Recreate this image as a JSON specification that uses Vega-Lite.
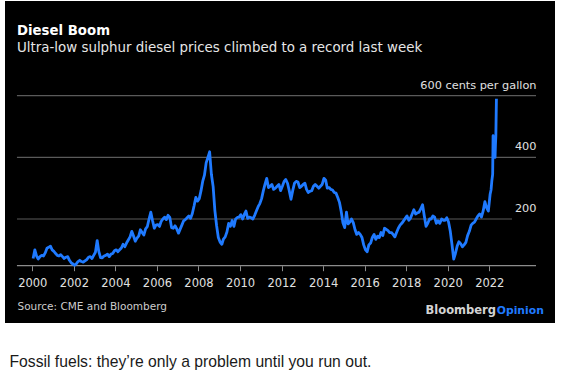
{
  "$schema": "https://vega.github.io/schema/vega-lite/v6.json",
  "width": 550,
  "height": 322,
  "autosize": {"type": "none"},
  "padding": {"left": 5, "top": 1, "right": 16, "bottom": 53},
  "background": "#ffffff",
  "config": {"view": {"fill": "#000000", "stroke": null}, "font": "DejaVu Sans"},
  "title": {
    "text": "Diesel Boom",
    "subtitle": "Ultra-low sulphur diesel prices climbed to a record last week",
    "anchor": "start",
    "frame": "group",
    "orient": "top",
    "offset": -53,
    "dx": 12,
    "font": "DejaVu Sans",
    "fontSize": 13.3,
    "fontWeight": "bold",
    "color": "#ffffff",
    "subtitleFont": "DejaVu Sans",
    "subtitleFontSize": 13.4,
    "subtitleColor": "#e6e6e6",
    "subtitlePadding": 3
  },
  "layer": [
    {
      "data": {"values": [{"level": 600}, {"level": 400}]},
      "mark": {"type": "rule", "color": "#5a5a5a", "strokeWidth": 1.2},
      "encoding": {
        "y": {"field": "level", "type": "quantitative"},
        "x": {"datum": {"year": 1999, "month": 4, "date": 6}},
        "x2": {"datum": {"year": 2024, "month": 4, "date": 1}}
      }
    },
    {
      "data": {"values": [{"level": 200}]},
      "mark": {"type": "rule", "color": "#5a5a5a", "strokeWidth": 1.2},
      "encoding": {
        "y": {"field": "level", "type": "quantitative"},
        "x": {"datum": {"year": 1999, "month": 4, "date": 6}},
        "x2": {"datum": {"year": 2023, "month": 2, "date": 5}}
      }
    },
    {
      "data": {"values": [{"level": 48.5}]},
      "mark": {"type": "rule", "color": "#8c8c8c", "strokeWidth": 1.2},
      "encoding": {
        "y": {"field": "level", "type": "quantitative"},
        "x": {"datum": {"year": 1999, "month": 4, "date": 6}},
        "x2": {"datum": {"year": 2024, "month": 4, "date": 1}}
      }
    },
    {
      "data": {"values": [
        {"date": "2000-01-15", "price": 72}, {"date": "2000-02-15", "price": 100}, {"date": "2000-03-15", "price": 80}, {"date": "2000-04-15", "price": 70}, {"date": "2000-05-15", "price": 78}, {"date": "2000-06-15", "price": 82}, {"date": "2000-07-15", "price": 80}, {"date": "2000-08-15", "price": 90}, {"date": "2000-09-15", "price": 105}, {"date": "2000-10-15", "price": 108}, {"date": "2000-11-15", "price": 112}, {"date": "2000-12-15", "price": 100},
        {"date": "2001-01-15", "price": 95}, {"date": "2001-02-15", "price": 88}, {"date": "2001-03-15", "price": 82}, {"date": "2001-04-15", "price": 80}, {"date": "2001-05-15", "price": 84}, {"date": "2001-06-15", "price": 78}, {"date": "2001-07-15", "price": 72}, {"date": "2001-08-15", "price": 76}, {"date": "2001-09-15", "price": 78}, {"date": "2001-10-15", "price": 66}, {"date": "2001-11-15", "price": 58}, {"date": "2001-12-15", "price": 54},
        {"date": "2002-01-15", "price": 50}, {"date": "2002-02-15", "price": 55}, {"date": "2002-03-15", "price": 62}, {"date": "2002-04-15", "price": 66}, {"date": "2002-05-15", "price": 62}, {"date": "2002-06-15", "price": 60}, {"date": "2002-07-15", "price": 64}, {"date": "2002-08-15", "price": 68}, {"date": "2002-09-15", "price": 76}, {"date": "2002-10-15", "price": 78}, {"date": "2002-11-15", "price": 72}, {"date": "2002-12-15", "price": 82},
        {"date": "2003-01-15", "price": 92}, {"date": "2003-02-15", "price": 130}, {"date": "2003-03-15", "price": 95}, {"date": "2003-04-15", "price": 75}, {"date": "2003-05-15", "price": 74}, {"date": "2003-06-15", "price": 80}, {"date": "2003-07-15", "price": 82}, {"date": "2003-08-15", "price": 86}, {"date": "2003-09-15", "price": 78}, {"date": "2003-10-15", "price": 86}, {"date": "2003-11-15", "price": 88}, {"date": "2003-12-15", "price": 97},
        {"date": "2004-01-15", "price": 100}, {"date": "2004-02-15", "price": 94}, {"date": "2004-03-15", "price": 100}, {"date": "2004-04-15", "price": 106}, {"date": "2004-05-15", "price": 118}, {"date": "2004-06-15", "price": 110}, {"date": "2004-07-15", "price": 122}, {"date": "2004-08-15", "price": 132}, {"date": "2004-09-15", "price": 142}, {"date": "2004-10-15", "price": 160}, {"date": "2004-11-15", "price": 145}, {"date": "2004-12-15", "price": 128},
        {"date": "2005-01-15", "price": 138}, {"date": "2005-02-15", "price": 145}, {"date": "2005-03-15", "price": 165}, {"date": "2005-04-15", "price": 156}, {"date": "2005-05-15", "price": 148}, {"date": "2005-06-15", "price": 168}, {"date": "2005-07-15", "price": 175}, {"date": "2005-08-15", "price": 200}, {"date": "2005-09-15", "price": 222}, {"date": "2005-10-15", "price": 195}, {"date": "2005-11-15", "price": 170}, {"date": "2005-12-15", "price": 180},
        {"date": "2006-01-15", "price": 182}, {"date": "2006-02-15", "price": 176}, {"date": "2006-03-15", "price": 192}, {"date": "2006-04-15", "price": 200}, {"date": "2006-05-15", "price": 206}, {"date": "2006-06-15", "price": 198}, {"date": "2006-07-15", "price": 212}, {"date": "2006-08-15", "price": 205}, {"date": "2006-09-15", "price": 172}, {"date": "2006-10-15", "price": 170}, {"date": "2006-11-15", "price": 178}, {"date": "2006-12-15", "price": 168},
        {"date": "2007-01-15", "price": 154}, {"date": "2007-02-15", "price": 168}, {"date": "2007-03-15", "price": 180}, {"date": "2007-04-15", "price": 194}, {"date": "2007-05-15", "price": 198}, {"date": "2007-06-15", "price": 204}, {"date": "2007-07-15", "price": 210}, {"date": "2007-08-15", "price": 202}, {"date": "2007-09-15", "price": 218}, {"date": "2007-10-15", "price": 242}, {"date": "2007-11-15", "price": 270}, {"date": "2007-12-15", "price": 258},
        {"date": "2008-01-15", "price": 266}, {"date": "2008-02-15", "price": 292}, {"date": "2008-03-15", "price": 322}, {"date": "2008-04-15", "price": 342}, {"date": "2008-05-15", "price": 382}, {"date": "2008-06-15", "price": 400}, {"date": "2008-07-15", "price": 418}, {"date": "2008-08-15", "price": 345}, {"date": "2008-09-15", "price": 305}, {"date": "2008-10-15", "price": 228}, {"date": "2008-11-15", "price": 178}, {"date": "2008-12-15", "price": 140},
        {"date": "2009-01-15", "price": 125}, {"date": "2009-02-15", "price": 118}, {"date": "2009-03-15", "price": 135}, {"date": "2009-04-15", "price": 142}, {"date": "2009-05-15", "price": 158}, {"date": "2009-06-15", "price": 186}, {"date": "2009-07-15", "price": 176}, {"date": "2009-08-15", "price": 195}, {"date": "2009-09-15", "price": 176}, {"date": "2009-10-15", "price": 200}, {"date": "2009-11-15", "price": 205}, {"date": "2009-12-15", "price": 206},
        {"date": "2010-01-15", "price": 214}, {"date": "2010-02-15", "price": 200}, {"date": "2010-03-15", "price": 214}, {"date": "2010-04-15", "price": 226}, {"date": "2010-05-15", "price": 202}, {"date": "2010-06-15", "price": 206}, {"date": "2010-07-15", "price": 204}, {"date": "2010-08-15", "price": 200}, {"date": "2010-09-15", "price": 212}, {"date": "2010-10-15", "price": 226}, {"date": "2010-11-15", "price": 240}, {"date": "2010-12-15", "price": 250},
        {"date": "2011-01-15", "price": 266}, {"date": "2011-02-15", "price": 292}, {"date": "2011-03-15", "price": 312}, {"date": "2011-04-15", "price": 332}, {"date": "2011-05-15", "price": 302}, {"date": "2011-06-15", "price": 306}, {"date": "2011-07-15", "price": 312}, {"date": "2011-08-15", "price": 296}, {"date": "2011-09-15", "price": 300}, {"date": "2011-10-15", "price": 306}, {"date": "2011-11-15", "price": 312}, {"date": "2011-12-15", "price": 292},
        {"date": "2012-01-15", "price": 306}, {"date": "2012-02-15", "price": 322}, {"date": "2012-03-15", "price": 328}, {"date": "2012-04-15", "price": 316}, {"date": "2012-05-15", "price": 292}, {"date": "2012-06-15", "price": 264}, {"date": "2012-07-15", "price": 292}, {"date": "2012-08-15", "price": 316}, {"date": "2012-09-15", "price": 322}, {"date": "2012-10-15", "price": 320}, {"date": "2012-11-15", "price": 302}, {"date": "2012-12-15", "price": 306},
        {"date": "2013-01-15", "price": 312}, {"date": "2013-02-15", "price": 316}, {"date": "2013-03-15", "price": 296}, {"date": "2013-04-15", "price": 286}, {"date": "2013-05-15", "price": 290}, {"date": "2013-06-15", "price": 292}, {"date": "2013-07-15", "price": 306}, {"date": "2013-08-15", "price": 312}, {"date": "2013-09-15", "price": 306}, {"date": "2013-10-15", "price": 300}, {"date": "2013-11-15", "price": 306}, {"date": "2013-12-15", "price": 312},
        {"date": "2014-01-15", "price": 332}, {"date": "2014-02-15", "price": 326}, {"date": "2014-03-15", "price": 300}, {"date": "2014-04-15", "price": 302}, {"date": "2014-05-15", "price": 296}, {"date": "2014-06-15", "price": 294}, {"date": "2014-07-15", "price": 286}, {"date": "2014-08-15", "price": 284}, {"date": "2014-09-15", "price": 270}, {"date": "2014-10-15", "price": 254}, {"date": "2014-11-15", "price": 224}, {"date": "2014-12-15", "price": 188},
        {"date": "2015-01-15", "price": 172}, {"date": "2015-02-15", "price": 222}, {"date": "2015-03-15", "price": 184}, {"date": "2015-04-15", "price": 190}, {"date": "2015-05-15", "price": 200}, {"date": "2015-06-15", "price": 188}, {"date": "2015-07-15", "price": 166}, {"date": "2015-08-15", "price": 150}, {"date": "2015-09-15", "price": 156}, {"date": "2015-10-15", "price": 150}, {"date": "2015-11-15", "price": 140}, {"date": "2015-12-15", "price": 116},
        {"date": "2016-01-15", "price": 100}, {"date": "2016-02-15", "price": 94}, {"date": "2016-03-15", "price": 116}, {"date": "2016-04-15", "price": 122}, {"date": "2016-05-15", "price": 140}, {"date": "2016-06-15", "price": 150}, {"date": "2016-07-15", "price": 134}, {"date": "2016-08-15", "price": 144}, {"date": "2016-09-15", "price": 140}, {"date": "2016-10-15", "price": 156}, {"date": "2016-11-15", "price": 146}, {"date": "2016-12-15", "price": 170},
        {"date": "2017-01-15", "price": 166}, {"date": "2017-02-15", "price": 162}, {"date": "2017-03-15", "price": 156}, {"date": "2017-04-15", "price": 156}, {"date": "2017-05-15", "price": 150}, {"date": "2017-06-15", "price": 142}, {"date": "2017-07-15", "price": 156}, {"date": "2017-08-15", "price": 170}, {"date": "2017-09-15", "price": 180}, {"date": "2017-10-15", "price": 186}, {"date": "2017-11-15", "price": 194}, {"date": "2017-12-15", "price": 202},
        {"date": "2018-01-15", "price": 210}, {"date": "2018-02-15", "price": 196}, {"date": "2018-03-15", "price": 202}, {"date": "2018-04-15", "price": 216}, {"date": "2018-05-15", "price": 230}, {"date": "2018-06-15", "price": 216}, {"date": "2018-07-15", "price": 220}, {"date": "2018-08-15", "price": 222}, {"date": "2018-09-15", "price": 234}, {"date": "2018-10-15", "price": 246}, {"date": "2018-11-15", "price": 210}, {"date": "2018-12-15", "price": 176},
        {"date": "2019-01-15", "price": 186}, {"date": "2019-02-15", "price": 200}, {"date": "2019-03-15", "price": 200}, {"date": "2019-04-15", "price": 210}, {"date": "2019-05-15", "price": 206}, {"date": "2019-06-15", "price": 186}, {"date": "2019-07-15", "price": 194}, {"date": "2019-08-15", "price": 186}, {"date": "2019-09-15", "price": 200}, {"date": "2019-10-15", "price": 196}, {"date": "2019-11-15", "price": 196}, {"date": "2019-12-15", "price": 204},
        {"date": "2020-01-15", "price": 190}, {"date": "2020-02-15", "price": 160}, {"date": "2020-03-15", "price": 118}, {"date": "2020-04-15", "price": 70}, {"date": "2020-05-15", "price": 88}, {"date": "2020-06-15", "price": 112}, {"date": "2020-07-15", "price": 126}, {"date": "2020-08-15", "price": 120}, {"date": "2020-09-15", "price": 110}, {"date": "2020-10-15", "price": 116}, {"date": "2020-11-15", "price": 124}, {"date": "2020-12-15", "price": 146},
        {"date": "2021-01-15", "price": 160}, {"date": "2021-02-15", "price": 180}, {"date": "2021-03-15", "price": 186}, {"date": "2021-04-15", "price": 190}, {"date": "2021-05-15", "price": 200}, {"date": "2021-06-15", "price": 210}, {"date": "2021-07-15", "price": 216}, {"date": "2021-08-15", "price": 206}, {"date": "2021-09-15", "price": 226}, {"date": "2021-10-15", "price": 256}, {"date": "2021-11-15", "price": 236}, {"date": "2021-12-15", "price": 226},
        {"date": "2022-01-15", "price": 280}, {"date": "2022-02-01", "price": 295}, {"date": "2022-02-15", "price": 325}, {"date": "2022-03-01", "price": 345}, {"date": "2022-03-08", "price": 470}, {"date": "2022-03-15", "price": 420}, {"date": "2022-03-22", "price": 455}, {"date": "2022-03-29", "price": 400}, {"date": "2022-04-05", "price": 430}, {"date": "2022-04-12", "price": 400}, {"date": "2022-04-19", "price": 440}, {"date": "2022-04-26", "price": 470}, {"date": "2022-05-06", "price": 590}
      ]},
      "mark": {"type": "line", "color": "#1f7aff", "strokeWidth": 2.8, "strokeJoin": "round"},
      "encoding": {
        "x": {
          "field": "date",
          "type": "temporal",
          "scale": {"domain": [{"year": 1998, "month": 9, "date": 8}, {"year": 2025, "month": 3, "date": 1}]},
          "axis": {
            "orient": "bottom",
            "offset": -57.3,
            "values": [
              {"year": 2000, "month": 1, "date": 1}, {"year": 2002, "month": 1, "date": 1}, {"year": 2004, "month": 1, "date": 1},
              {"year": 2006, "month": 1, "date": 1}, {"year": 2008, "month": 1, "date": 1}, {"year": 2010, "month": 1, "date": 1},
              {"year": 2012, "month": 1, "date": 1}, {"year": 2014, "month": 1, "date": 1}, {"year": 2016, "month": 1, "date": 1},
              {"year": 2018, "month": 1, "date": 1}, {"year": 2020, "month": 1, "date": 1}, {"year": 2022, "month": 1, "date": 1}
            ],
            "format": "%Y",
            "tickSize": 5,
            "tickColor": "#8c8c8c",
            "tickWidth": 1,
            "domain": false,
            "grid": false,
            "labelColor": "#e0e0e0",
            "labelFont": "DejaVu Sans",
            "labelFontSize": 11.5,
            "labelPadding": 7,
            "labelFlush": false,
            "labelOverlap": false,
            "title": "Source: CME and Bloomberg",
            "titleX": 12,
            "titleY": 43.8,
            "titleAlign": "left",
            "titleBaseline": "alphabetic",
            "titleFont": "DejaVu Sans",
            "titleFontSize": 10.5,
            "titleFontWeight": "normal",
            "titleColor": "#cccccc"
          }
        },
        "y": {
          "field": "price",
          "type": "quantitative",
          "scale": {"domain": [-137.4, 907.2], "nice": false, "zero": false},
          "axis": {
            "orient": "right",
            "offset": -19,
            "values": [200, 400, 600],
            "ticks": false,
            "domain": false,
            "grid": false,
            "labelAlign": "right",
            "labelPadding": 0,
            "labelBaseline": "alphabetic",
            "labelOffset": -7.5,
            "labelExpr": "datum.value == 600 ? '600 cents per gallon' : datum.label",
            "labelColor": "#e0e0e0",
            "labelFont": "DejaVu Sans",
            "labelFontSize": 11.3,
            "labelFlush": false,
            "labelOverlap": false,
            "title": "Fossil fuels: they’re only a problem until you run out.",
            "titleAngle": 0,
            "titleX": -527,
            "titleY": 365,
            "titleAlign": "left",
            "titleBaseline": "alphabetic",
            "titleFont": "Liberation Sans",
            "titleFontSize": 15.7,
            "titleFontWeight": "normal",
            "titleColor": "#1a1a1a"
          }
        }
      }
    },
    {
      "data": {"values": [{"brand": "Bloomberg"}]},
      "mark": {"type": "text", "align": "right", "baseline": "alphabetic", "font": "DejaVu Sans", "fontSize": 11.5, "fontWeight": "bold", "color": "#d4d4d4"},
      "encoding": {
        "text": {"field": "brand"},
        "x": {"datum": {"year": 2022, "month": 4, "date": 28}},
        "y": {"datum": -108}
      }
    },
    {
      "data": {"values": [{"brand": "Opinion"}]},
      "mark": {"type": "text", "align": "left", "baseline": "alphabetic", "font": "DejaVu Sans", "fontSize": 10.8, "fontWeight": "bold", "color": "#1f7aff"},
      "encoding": {
        "text": {"field": "brand"},
        "x": {"datum": {"year": 2022, "month": 5, "date": 12}},
        "y": {"datum": -108}
      }
    }
  ]
}
